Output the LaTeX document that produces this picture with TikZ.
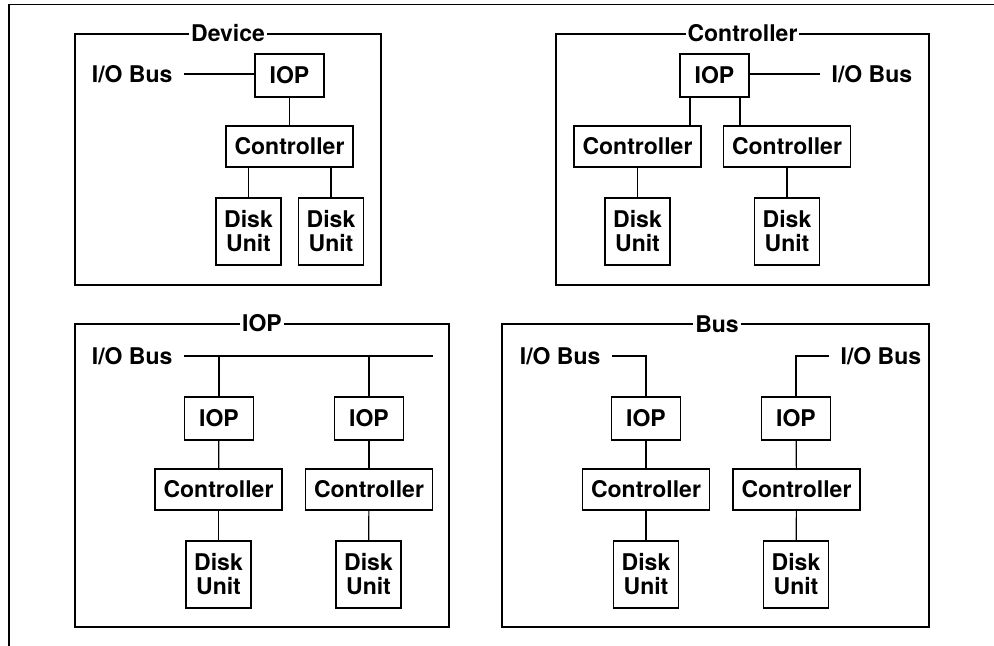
\documentclass[tikz,border=0pt]{standalone}
\usepackage{fontspec}
\setmainfont{TeX Gyre Heros}
\usetikzlibrary{calc}

\begin{document}
\begin{tikzpicture}[x=0.5pt,y=-0.5pt,line width=0.6pt,
		font=\fontsize{11.5}{12}\selectfont\bfseries,
		unit/.style={draw,inner sep=0pt,align=center},
		iop/.style={unit,minimum width=34.5pt,minimum height=21.5pt},
		ctl/.style={unit,minimum width=63.5pt,minimum height=20.5pt},
		disk/.style={unit,minimum width=32.5pt,minimum height=33.5pt},
		frame/.style={draw,inner sep=0pt},
		title/.style={fill=white,inner xsep=1pt,inner ysep=0pt},
		lbl/.style={inner xsep=5.5pt,inner ysep=0pt}]
	\useasboundingbox (0,0) rectangle (994,646);
	\draw (9,646) -- (9,4.5) -- (994,4.5);

	% Device
	\node[frame,minimum width=153pt,minimum height=125.5pt] (dev) at (228,159.5) {};
	\node[title] (devt) at (dev.north) {Device};
	\node[iop] (iop1) at (289.5,75.5) {IOP};
	\node[lbl,anchor=east] (bus1) at (184,74) {I/O Bus};
	\node[ctl] (ctl1) at (289.5,146.5) {Controller};
	\node[disk] (dsk1a) at (248.5,231.5) {Disk\\Unit};
	\node[disk] (dsk1b) at (331,231.5) {Disk\\Unit};
	\draw (bus1) -- (bus1 -| iop1.west);
	\draw (iop1) -- (ctl1);
	\draw (dsk1a) -- (dsk1a |- ctl1.south);
	\draw (dsk1b) -- (dsk1b |- ctl1.south);

	% Controller
	\node[frame,minimum width=186.5pt,minimum height=125.5pt] (con) at (742.5,159.5) {};
	\node[title] (cont) at (con.north) {Controller};
	\node[iop] (iop2) at (714.5,75.5) {IOP};
	\node[lbl,anchor=west] (bus2) at (820,74) {I/O Bus};
	\node[ctl] (ctl2a) at (637.5,146.5) {Controller};
	\node[ctl] (ctl2b) at (787,146.5) {Controller};
	\node[disk] (dsk2a) at (637.5,231.5) {Disk\\Unit};
	\node[disk] (dsk2b) at (787,231.5) {Disk\\Unit};
	\draw (iop2.east |- bus2) -- (bus2);
	\draw ($(iop2.south)+(-24.5,0)$) coordinate (t2a) -- (t2a |- ctl2a.north);
	\draw ($(iop2.south)+(25.5,0)$) coordinate (t2b) -- (t2b |- ctl2b.north);
	\draw (ctl2a) -- (dsk2a);
	\draw (ctl2b) -- (dsk2b);

	% IOP
	\node[frame,minimum width=187pt,minimum height=151.5pt] (iopf) at (262,475.5) {};
	\node[title] (iopt) at (iopf.north) {IOP};
	\node[lbl,anchor=east] (bus3) at (184,356) {I/O Bus};
	\coordinate (bus3end) at (433,356);
	\node[iop] (iop3a) at (219,418.5) {IOP};
	\node[iop] (iop3b) at (369,418.5) {IOP};
	\node[ctl] (ctl3a) at (218.5,489.5) {Controller};
	\node[ctl] (ctl3b) at (369,489.5) {Controller};
	\node[disk] (dsk3a) at (218.5,574.5) {Disk\\Unit};
	\node[disk] (dsk3b) at (368.5,574.5) {Disk\\Unit};
	\draw (bus3) -- (bus3end);
	\draw (iop3a) -- (iop3a |- bus3end);
	\draw (iop3b) -- (iop3b |- bus3end);
	\draw (iop3a) -- (ctl3a);
	\draw (iop3b) -- (ctl3b);
	\draw (ctl3a) -- (dsk3a);
	\draw (ctl3b) -- (dsk3b);

	% Bus
	\node[frame,minimum width=213.5pt,minimum height=151.5pt] (busf) at (715.5,475.5) {};
	\node[title] (bust) at (717,324) {Bus};
	\node[lbl,anchor=east] (bus4a) at (612,356) {I/O Bus};
	\node[lbl,anchor=west] (bus4b) at (829,356) {I/O Bus};
	\node[iop] (iop4a) at (646,418.5) {IOP};
	\node[iop] (iop4b) at (796,418.5) {IOP};
	\node[ctl] (ctl4a) at (646,489.5) {Controller};
	\node[ctl] (ctl4b) at (796.5,489.5) {Controller};
	\node[disk] (dsk4a) at (646,574.5) {Disk\\Unit};
	\node[disk] (dsk4b) at (796,574.5) {Disk\\Unit};
	\draw (bus4a) -| (iop4a);
	\draw (bus4b) -| (iop4b);
	\draw (iop4a) -- (ctl4a);
	\draw (iop4b) -- (ctl4b);
	\draw (ctl4a) -- (dsk4a);
	\draw (ctl4b) -- (dsk4b);
\end{tikzpicture}
\end{document}
